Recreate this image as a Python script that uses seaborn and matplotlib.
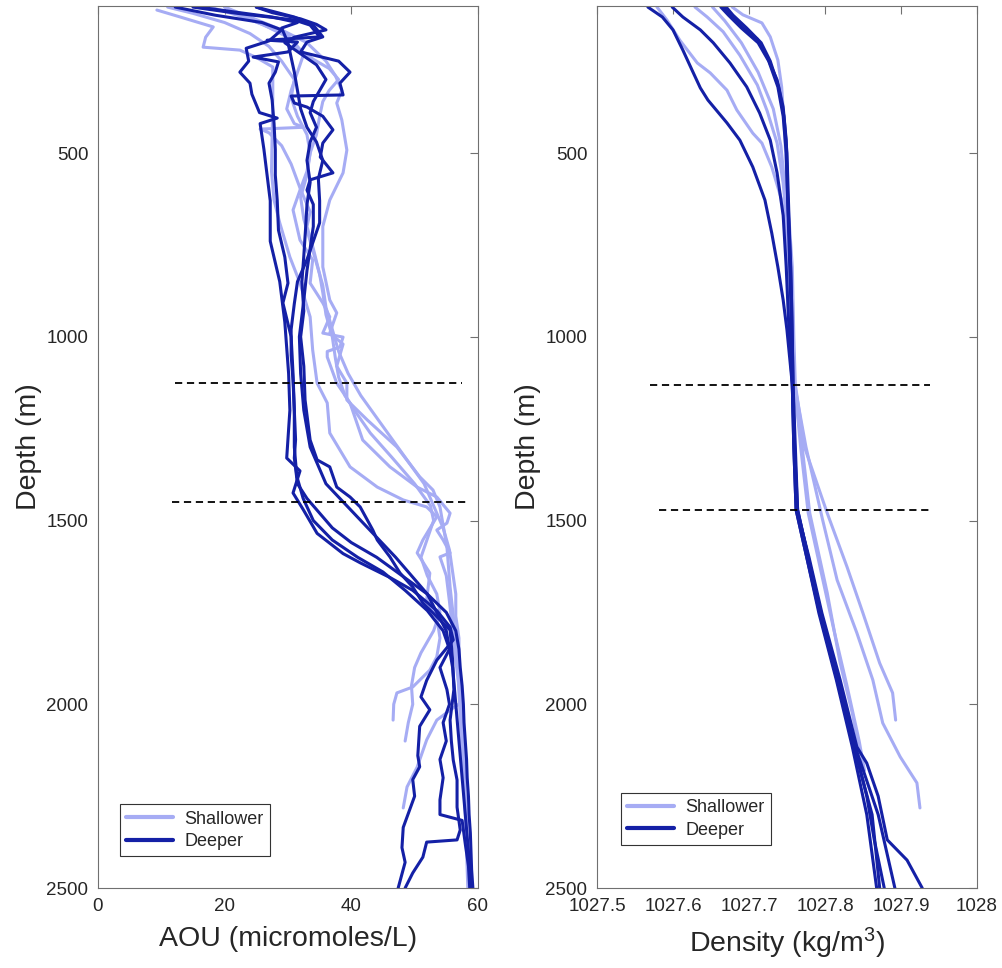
import numpy as np
import pandas as pd
import matplotlib
matplotlib.use("Agg")
import matplotlib.pyplot as plt
import seaborn as sns

# ---------------- AOU profiles (depth in m, AOU in micromoles/L) ----------------
aou_s1_depth = [111, 130, 157, 185, 212, 220, 240, 266, 350, 450, 550, 628, 690, 783, 854, 946, 1036, 1126, 1180, 1262, 1354, 1409, 1444, 1463, 1490, 1553, 1588, 1643, 1716, 1762, 1820, 1871, 1907, 1953, 1969, 2000, 2043]
aou_s1_val = [9.3, 13.0, 18.2, 17.0, 16.6, 22.4, 25.0, 27.6, 27.6, 27.5, 27.4, 27.8, 28.7, 30.3, 31.9, 33.5, 33.9, 34.6, 36.2, 36.6, 39.8, 44.1, 48.2, 51.9, 53.5, 51.3, 50.4, 52.4, 51.9, 53.5, 54.0, 53.5, 52.4, 49.7, 47.2, 46.7, 46.6]

aou_s2_depth = [103, 125, 150, 185, 215, 245, 270, 300, 330, 360, 400, 450, 500, 550, 601, 655, 737, 791, 854, 908, 946, 990, 1001, 1028, 1040, 1055, 1126, 1180, 1281, 1354, 1409, 1436, 1480, 1507, 1526, 1553, 1588, 1599, 1650, 1720, 1800, 1880, 1950, 1997, 2016, 2043, 2097, 2171, 2225, 2282]
aou_s2_val = [17.7, 22.0, 26.0, 30.0, 31.5, 34.0, 36.5, 38.0, 36.5, 35.5, 35.0, 34.5, 33.5, 33.0, 31.9, 30.8, 31.9, 33.9, 33.5, 35.5, 36.6, 35.5, 38.7, 38.2, 36.2, 36.2, 37.7, 39.8, 41.8, 46.1, 50.4, 53.5, 55.6, 55.1, 53.5, 54.5, 55.6, 54.0, 55.0, 55.5, 56.0, 56.5, 57.0, 57.2, 55.6, 53.5, 51.9, 50.4, 48.8, 48.2]

aou_s3_depth = [103, 130, 165, 200, 250, 290, 330, 364, 410, 492, 554, 628, 700, 810, 900, 935, 990, 1020, 1080, 1126, 1172, 1226, 1300, 1381, 1417, 1463, 1572, 1681, 1806, 1900, 2000, 2100, 2200, 2300, 2400, 2500]
aou_s3_val = [20.0, 24.0, 29.0, 33.0, 36.0, 37.5, 38.5, 37.7, 38.5, 39.3, 38.7, 36.6, 35.5, 35.5, 36.6, 37.7, 36.6, 38.7, 37.7, 39.3, 39.3, 42.5, 47.2, 50.8, 52.9, 54.0, 55.1, 55.6, 56.4, 56.8, 57.1, 57.4, 57.7, 58.0, 58.2, 58.4]

aou_s4_depth = [103, 140, 180, 230, 280, 330, 380, 420, 430, 435, 445, 480, 530, 600, 660, 700, 760, 830, 880, 940, 1000, 1060, 1110, 1160, 1200, 1262, 1330, 1400, 1460, 1500, 1550, 1600, 1650, 1700, 1750, 1800, 1860, 1900, 1950, 2000, 2050, 2100]
aou_s4_val = [20.0, 24.5, 30.0, 32.5, 31.5, 30.5, 29.8, 31.0, 32.4, 25.6, 27.0, 29.0, 30.5, 32.0, 33.5, 33.0, 34.0, 35.0, 35.5, 36.0, 37.0, 37.5, 38.0, 39.0, 40.5, 43.0, 46.5, 50.0, 52.5, 53.0, 52.0, 51.0, 52.0, 53.5, 54.0, 53.0, 51.0, 50.0, 49.5, 49.7, 49.0, 48.5]

aou_s5_depth = [103, 120, 145, 175, 210, 250, 300, 350, 400, 450, 500, 560, 620, 680, 740, 800, 860, 920, 980, 1040, 1100, 1160, 1220, 1280, 1340, 1400, 1460, 1520, 1580, 1640, 1700, 1760, 1820, 1880, 1940, 2000, 2060, 2120, 2180, 2240, 2300, 2360, 2420]
aou_s5_val = [11.0, 15.0, 20.0, 24.0, 27.0, 29.0, 31.0, 30.5, 31.5, 33.0, 33.5, 33.0, 32.0, 32.5, 33.5, 34.5, 35.5, 36.0, 37.0, 38.0, 39.5, 41.5, 44.0, 46.5, 49.0, 51.5, 53.0, 54.5, 55.5, 56.0, 56.5, 56.5, 57.0, 57.0, 57.3, 57.5, 57.5, 57.8, 58.0, 58.0, 58.2, 58.3, 58.5]

aou_d1_depth = [103, 125, 145, 165, 195, 215, 250, 280, 310, 340, 365, 390, 405, 420, 490, 560, 630, 740, 850, 960, 1100, 1200, 1330, 1365, 1425, 1470, 1535, 1590, 1615, 1655, 1690, 1745, 1790, 1825, 1880, 1935, 1980, 2015, 2060, 2140, 2170, 2205, 2250, 2335, 2390, 2430, 2500]
aou_d1_val = [12.2, 18.5, 25.9, 29.0, 27.0, 23.4, 23.8, 22.4, 24.0, 24.3, 24.9, 25.5, 28.3, 25.6, 26.2, 26.7, 27.2, 27.2, 28.7, 29.5, 30.1, 30.3, 29.8, 31.9, 30.8, 32.4, 34.6, 38.7, 41.4, 46.1, 49.7, 53.5, 55.6, 56.1, 53.5, 51.9, 51.0, 52.4, 50.8, 50.5, 50.8, 49.7, 50.0, 48.2, 48.0, 48.5, 47.4]

aou_d2_depth = [103, 120, 138, 152, 184, 193, 198, 225, 239, 252, 280, 310, 356, 420, 490, 560, 628, 710, 783, 854, 908, 1000, 1100, 1200, 1300, 1380, 1440, 1500, 1553, 1600, 1640, 1690, 1745, 1800, 1850, 1900, 1960, 2000, 2050, 2100, 2150, 2200, 2260, 2300, 2316, 2380, 2440, 2500]
aou_d2_val = [15.0, 22.0, 31.0, 33.5, 35.0, 26.7, 31.5, 30.0, 24.5, 28.5, 28.0, 27.0, 27.5, 27.8, 28.0, 28.0, 28.3, 28.5, 29.5, 30.0, 29.2, 30.5, 30.8, 31.0, 31.0, 31.4, 32.4, 34.0, 37.0, 41.0, 45.0, 48.5, 52.0, 54.5, 55.5, 54.0, 55.1, 55.5, 54.5, 55.0, 54.0, 54.5, 54.0, 54.0, 57.5, 58.0, 58.5, 58.7]

aou_d3_depth = [103, 130, 152, 184, 198, 225, 250, 280, 310, 342, 345, 364, 375, 400, 437, 473, 511, 554, 573, 601, 640, 700, 760, 820, 900, 1000, 1100, 1200, 1300, 1400, 1500, 1600, 1700, 1800, 1900, 2000, 2100, 2200, 2300, 2400, 2500]
aou_d3_val = [25.0, 31.0, 34.0, 35.5, 33.0, 32.0, 38.0, 39.8, 38.2, 38.7, 30.5, 31.0, 33.0, 35.5, 37.1, 35.5, 35.1, 37.1, 33.5, 33.0, 34.0, 34.0, 33.5, 33.0, 32.5, 31.8, 32.0, 32.5, 33.5, 36.0, 41.5, 47.0, 52.0, 55.0, 56.0, 56.5, 57.0, 57.5, 58.0, 58.5, 59.0]

aou_d4_depth = [103, 118, 135, 150, 165, 185, 200, 230, 260, 300, 330, 360, 390, 430, 470, 520, 580, 640, 700, 780, 850, 930, 1000, 1080, 1172, 1281, 1335, 1354, 1409, 1436, 1463, 1526, 1553, 1599, 1643, 1681, 1724, 1798, 1880, 1960, 2043, 2100, 2152, 2206, 2280, 2342, 2369, 2375, 2416, 2459, 2500]
aou_d4_val = [25.0, 27.5, 32.0, 34.5, 36.0, 31.0, 29.5, 32.0, 34.5, 36.0, 35.0, 34.0, 33.5, 34.5, 33.5, 33.0, 33.5, 33.0, 32.8, 32.5, 32.2, 32.5, 32.0, 32.5, 32.7, 33.5, 34.6, 36.6, 37.7, 39.8, 41.4, 43.4, 44.1, 46.1, 47.7, 49.7, 51.3, 55.6, 56.0, 56.2, 55.6, 55.8, 56.1, 56.7, 56.7, 57.2, 56.7, 51.9, 51.3, 49.7, 48.5]

aou_d5_depth = [103, 115, 130, 145, 160, 200, 240, 280, 330, 380, 430, 470, 520, 570, 630, 690, 740, 790, 850, 910, 980, 1050, 1120, 1200, 1280, 1330, 1400, 1440, 1470, 1520, 1560, 1600, 1650, 1700, 1750, 1800, 1850, 1900, 1950, 2000, 2050, 2100, 2150, 2200, 2250, 2300, 2350, 2400, 2450, 2500]
aou_d5_val = [16.0, 21.0, 27.5, 31.5, 29.0, 30.0, 30.5, 31.0, 31.5, 32.0, 33.0, 34.5, 35.5, 34.8, 35.0, 35.0, 34.0, 33.0, 31.5, 31.0, 30.5, 30.5, 30.8, 31.0, 31.2, 31.0, 31.5, 33.0, 34.5, 37.0, 40.0, 44.0, 48.0, 52.0, 55.0, 56.5, 57.0, 57.2, 57.5, 57.7, 57.8, 58.0, 58.2, 58.3, 58.5, 58.6, 58.8, 58.9, 59.0, 59.2]

# ---------------- Density profiles (depth in m, density in kg/m^3) ----------------
den_s1_depth = [103, 138, 193, 255, 282, 329, 383, 446, 473, 538, 628, 718, 900, 1130, 1300, 1480, 1697, 1888, 2024, 2133]
den_s1_val = [1027.579, 1027.592, 1027.609, 1027.632, 1027.649, 1027.671, 1027.684, 1027.705, 1027.717, 1027.730, 1027.743, 1027.749, 1027.754, 1027.759, 1027.770, 1027.780, 1027.803, 1027.820, 1027.836, 1027.846]

den_s2_depth = [103, 130, 170, 234, 315, 386, 473, 582, 718, 900, 1130, 1300, 1499, 1662, 1806, 1934, 2051, 2143, 2214, 2282]
den_s2_val = [1027.629, 1027.645, 1027.666, 1027.688, 1027.711, 1027.724, 1027.737, 1027.745, 1027.751, 1027.756, 1027.760, 1027.775, 1027.797, 1027.816, 1027.842, 1027.863, 1027.876, 1027.899, 1027.921, 1027.925]

den_s3_depth = [103, 124, 146, 184, 247, 320, 446, 628, 810, 1000, 1130, 1300, 1480, 1626, 1752, 1888, 1969, 2043]
den_s3_val = [1027.678, 1027.692, 1027.717, 1027.728, 1027.738, 1027.743, 1027.747, 1027.751, 1027.757, 1027.759, 1027.761, 1027.773, 1027.803, 1027.829, 1027.850, 1027.872, 1027.889, 1027.893]

den_s4_depth = [103, 140, 200, 280, 380, 480, 628, 810, 1000, 1130, 1300, 1480, 1650, 1800, 1950, 2100, 2180]
den_s4_val = [1027.652, 1027.668, 1027.690, 1027.712, 1027.732, 1027.742, 1027.749, 1027.754, 1027.758, 1027.760, 1027.768, 1027.778, 1027.796, 1027.812, 1027.829, 1027.845, 1027.852]

den_d1_depth = [103, 130, 165, 220, 274, 323, 356, 418, 465, 538, 628, 718, 810, 900, 982, 1130, 1300, 1471, 1600, 1752, 1934, 2116, 2300, 2500]
den_d1_val = [1027.567, 1027.586, 1027.600, 1027.613, 1027.625, 1027.636, 1027.646, 1027.671, 1027.688, 1027.705, 1027.721, 1027.730, 1027.738, 1027.745, 1027.750, 1027.757, 1027.759, 1027.762, 1027.776, 1027.792, 1027.815, 1027.836, 1027.855, 1027.868]

den_d2_depth = [103, 130, 165, 200, 255, 320, 391, 465, 554, 670, 810, 1000, 1130, 1300, 1471, 1600, 1752, 1934, 2116, 2250, 2370, 2500]
den_d2_val = [1027.599, 1027.613, 1027.636, 1027.653, 1027.675, 1027.697, 1027.714, 1027.728, 1027.737, 1027.745, 1027.749, 1027.753, 1027.757, 1027.760, 1027.764, 1027.778, 1027.795, 1027.818, 1027.839, 1027.855, 1027.865, 1027.878]

den_d3_depth = [103, 125, 160, 190, 239, 301, 375, 465, 628, 810, 1000, 1130, 1300, 1471, 1600, 1752, 1934, 2116, 2160, 2250, 2369, 2424, 2500]
den_d3_val = [1027.666, 1027.675, 1027.692, 1027.711, 1027.724, 1027.737, 1027.745, 1027.749, 1027.751, 1027.755, 1027.757, 1027.758, 1027.760, 1027.763, 1027.779, 1027.796, 1027.820, 1027.842, 1027.855, 1027.870, 1027.882, 1027.908, 1027.928]

den_d4_depth = [103, 125, 160, 200, 250, 320, 400, 500, 700, 900, 1130, 1300, 1471, 1600, 1752, 1934, 2116, 2300, 2500]
den_d4_val = [1027.670, 1027.679, 1027.697, 1027.716, 1027.728, 1027.739, 1027.746, 1027.750, 1027.753, 1027.756, 1027.758, 1027.761, 1027.764, 1027.778, 1027.794, 1027.817, 1027.840, 1027.870, 1027.892]

den_d5_depth = [103, 125, 160, 200, 250, 320, 400, 500, 700, 900, 1130, 1300, 1471, 1600, 1752, 1934, 2116, 2300, 2500]
den_d5_val = [1027.663, 1027.673, 1027.690, 1027.712, 1027.726, 1027.738, 1027.745, 1027.749, 1027.752, 1027.755, 1027.757, 1027.759, 1027.762, 1027.776, 1027.793, 1027.816, 1027.838, 1027.862, 1027.872]

# dashed reference lines
aou_ref_depth = [1126, 1450]
aou_ref_x0 = [12.2, 11.7]
aou_ref_x1 = [57.5, 58.3]
den_ref_depth = [1130, 1471]
den_ref_x0 = [1027.570, 1027.582]
den_ref_x1 = [1027.938, 1027.941]

groups = ["Shallower", "Deeper"]
aou_xticks = [0, 20, 40, 60]
den_xticks = [1027.5, 1027.6, 1027.7, 1027.8, 1027.9, 1028.0]
den_xticklabels = ["1027.5", "1027.6", "1027.7", "1027.8", "1027.9", "1028"]
depth_ticks = [500, 1000, 1500, 2000, 2500]

LIGHT = "#a6acf4"
DARK = "#1420a6"


def build(profiles):
    frames = []
    for name, grp, d, v in profiles:
        frames.append(pd.DataFrame({"depth": d, "value": v, "profile": name, "group": grp}))
    return pd.concat(frames, ignore_index=True)


aou_df = build([
    ("s1", "Shallower", aou_s1_depth, aou_s1_val),
    ("s2", "Shallower", aou_s2_depth, aou_s2_val),
    ("s3", "Shallower", aou_s3_depth, aou_s3_val),
    ("s4", "Shallower", aou_s4_depth, aou_s4_val),
    ("s5", "Shallower", aou_s5_depth, aou_s5_val),
    ("d1", "Deeper", aou_d1_depth, aou_d1_val),
    ("d2", "Deeper", aou_d2_depth, aou_d2_val),
    ("d3", "Deeper", aou_d3_depth, aou_d3_val),
    ("d4", "Deeper", aou_d4_depth, aou_d4_val),
    ("d5", "Deeper", aou_d5_depth, aou_d5_val),
])
den_df = build([
    ("s1", "Shallower", den_s1_depth, den_s1_val),
    ("s2", "Shallower", den_s2_depth, den_s2_val),
    ("s3", "Shallower", den_s3_depth, den_s3_val),
    ("s4", "Shallower", den_s4_depth, den_s4_val),
    ("d1", "Deeper", den_d1_depth, den_d1_val),
    ("d2", "Deeper", den_d2_depth, den_d2_val),
    ("d3", "Deeper", den_d3_depth, den_d3_val),
    ("d4", "Deeper", den_d4_depth, den_d4_val),
    ("d5", "Deeper", den_d5_depth, den_d5_val),
])

sns.set_theme(style="white")
plt.rcParams["font.family"] = ["Liberation Sans", "DejaVu Sans"]
plt.rcParams["mathtext.default"] = "regular"

fig = plt.figure(figsize=(10.02, 9.68), dpi=100)
ax1 = fig.add_axes([0.0978, 0.0826, 0.3792, 0.9112])
ax2 = fig.add_axes([0.5958, 0.0826, 0.3792, 0.9112])

SPINE = "#707070"
TEXT = "#262626"

for ax, df, rd, rx0, rx1, leg_anchor in [
    (ax1, aou_df, aou_ref_depth, aou_ref_x0, aou_ref_x1, (0.058, 0.036)),
    (ax2, den_df, den_ref_depth, den_ref_x0, den_ref_x1, (0.063, 0.049)),
]:
    sns.lineplot(data=df, x="value", y="depth", hue="group", units="profile",
                 estimator=None, sort=False, hue_order=groups,
                 palette={"Shallower": LIGHT, "Deeper": DARK},
                 linewidth=2.2, ax=ax)
    for dep, a, b in zip(rd, rx0, rx1):
        ax.plot([a, b], [dep, dep], color="black", linestyle=(0, (4, 2.6)), linewidth=1.3)
    handles, labels = ax.get_legend_handles_labels()
    keep = [(h, l) for h, l in zip(handles, labels) if l in groups]
    leg = ax.legend([h for h, _ in keep], [l for _, l in keep], loc="lower left",
                    bbox_to_anchor=leg_anchor, borderaxespad=0, fontsize=13,
                    frameon=True, fancybox=False, framealpha=1, edgecolor="#333333",
                    handlelength=2.6, handletextpad=0.6, borderpad=0.35, labelspacing=0.3)
    leg.get_frame().set_linewidth(0.8)
    for line in leg.get_lines():
        line.set_linewidth(3)
    ax.set_ylim(2500, 100)
    ax.set_yticks(depth_ticks)
    ax.set_ylabel("Depth (m)", fontsize=20.5, color=TEXT, labelpad=3)
    ax.tick_params(direction="in", top=True, right=True, length=5.5, width=0.8,
                   color=SPINE, labelcolor=TEXT, labelsize=13.5, pad=7)
    for s in ax.spines.values():
        s.set_color(SPINE)
        s.set_linewidth(0.8)

ax1.set_xlim(0, 60)
ax1.set_xticks(aou_xticks)
ax1.set_xlabel("AOU (micromoles/L)", fontsize=20.5, color=TEXT, labelpad=8)

ax2.set_xlim(1027.5, 1028.0)
ax2.set_xticks(den_xticks)
ax2.set_xticklabels(den_xticklabels)
ax2.set_xlabel("Density (kg/m$^{3}$)", fontsize=20.5, color=TEXT, labelpad=8)

fig.savefig("out.png", dpi=100, facecolor="white")
